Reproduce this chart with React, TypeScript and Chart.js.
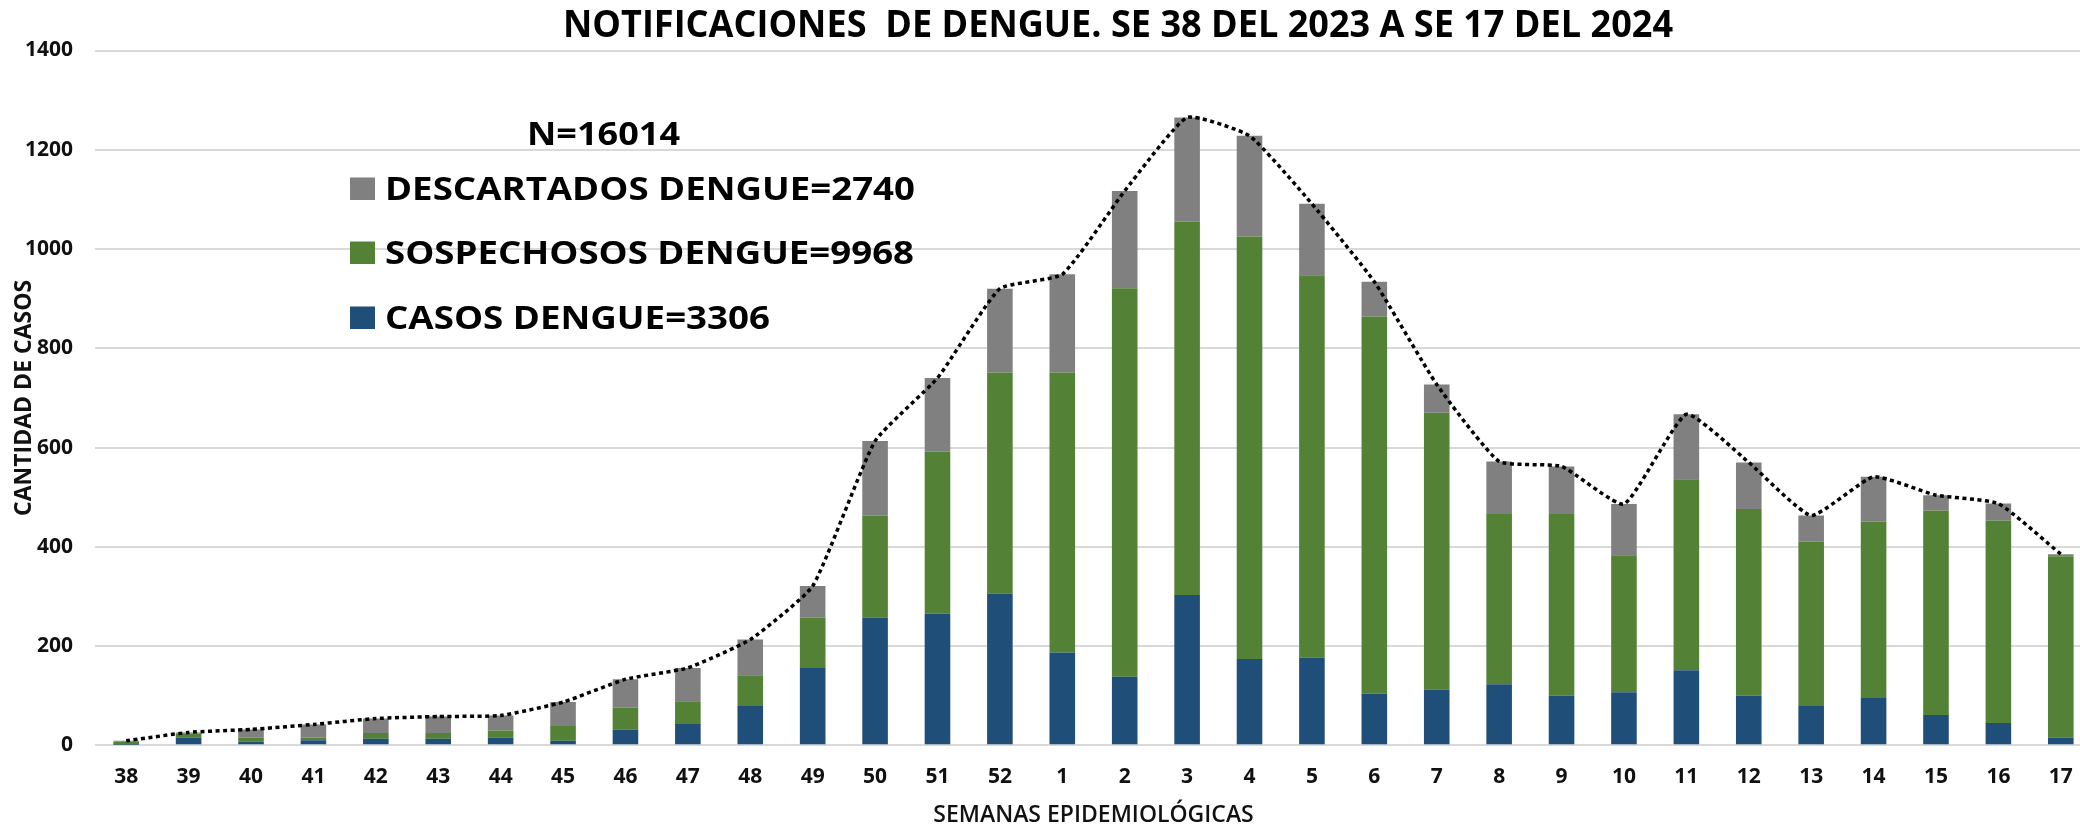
import React, { useEffect, useRef } from 'react';
import { Chart, registerables } from 'chart.js';

Chart.register(...registerables);

// ---------- DATA ----------
const WEEKS = ['38', '39', '40', '41', '42', '43', '44', '45', '46', '47', '48', '49', '50', '51', '52',
  '1', '2', '3', '4', '5', '6', '7', '8', '9', '10', '11', '12', '13', '14', '15', '16', '17'];

const CASOS = [1, 15, 7, 10, 13, 13, 15, 9, 32, 43, 79, 156, 257, 265, 306,
  187, 138, 303, 174, 177, 104, 112, 123, 100, 107, 151, 100, 79, 97, 61, 45, 15];

const SOSPECHOSOS = [6, 9, 8, 5, 12, 12, 15, 30, 44, 46, 62, 101, 206, 327, 445,
  564, 783, 752, 851, 770, 760, 558, 343, 366, 276, 385, 376, 331, 354, 412, 408, 366];

const DESCARTADOS = [2, 2, 17, 27, 29, 33, 30, 48, 57, 67, 72, 64, 150, 148, 169,
  198, 196, 210, 203, 144, 70, 57, 106, 96, 103, 131, 94, 53, 90, 31, 34, 4];

const SERIES_LABELS = ['CASOS DENGUE=3306', 'SOSPECHOSOS DENGUE=9968', 'DESCARTADOS DENGUE=2740'];
const SERIES_COLORS = ['#1F4E79', '#538135', '#808080'];
const TOTAL_LABEL = 'N=16014';
const TITLE = 'NOTIFICACIONES  DE DENGUE. SE 38 DEL 2023 A SE 17 DEL 2024';
const Y_TITLE = 'CANTIDAD DE CASOS';
const X_TITLE = 'SEMANAS EPIDEMIOLÓGICAS';
const Y_MIN = 0;
const Y_MAX = 1400;
const Y_STEP = 200;

const FONT = '"Open Sans", "Noto Sans", sans-serif';

function fitText(
  ctx: CanvasRenderingContext2D,
  text: string,
  x: number,
  baseline: number,
  fontPx: number,
  targetW: number,
  align: CanvasTextAlign
) {
  ctx.save();
  ctx.font = `bold ${fontPx}px ${FONT}`;
  const w = ctx.measureText(text).width;
  const sx = w > 0 ? targetW / w : 1;
  ctx.translate(x, baseline);
  ctx.scale(sx, 1);
  ctx.textAlign = align;
  ctx.textBaseline = 'alphabetic';
  ctx.fillStyle = '#000';
  ctx.fillText(text, 0, 0);
  ctx.restore();
}

const overlayPlugin = {
  id: 'overlayText',
  afterDraw(chart: any) {
    const ctx: CanvasRenderingContext2D = chart.ctx;
    // Title
    fitText(ctx, TITLE, 1118, 37, 37, 1110, 'center');
    // N label
    fitText(ctx, TOTAL_LABEL, 603.5, 145, 32, 153, 'center');
    // Legend items (top to bottom: descartados, sospechosos, casos)
    const rows = [
      { i: 2, base: 200, w: 530 },
      { i: 1, base: 264, w: 529 },
      { i: 0, base: 329, w: 385 },
    ];
    rows.forEach((r) => {
      ctx.save();
      ctx.fillStyle = SERIES_COLORS[r.i];
      ctx.fillRect(350, r.base - 22.5, 25, 22.5);
      ctx.restore();
      fitText(ctx, SERIES_LABELS[r.i], 385, r.base, 32, r.w, 'left');
    });
  },
};

export default function App() {
  const canvasRef = useRef<HTMLCanvasElement | null>(null);

  useEffect(() => {
    if (!canvasRef.current) return;
    const totals = WEEKS.map((_, i) => CASOS[i] + SOSPECHOSOS[i] + DESCARTADOS[i]);
    const barSeries = [CASOS, SOSPECHOSOS, DESCARTADOS];

    const chart = new Chart(canvasRef.current, {
      type: 'bar',
      data: {
        labels: WEEKS,
        datasets: [
          {
            type: 'line',
            label: 'TOTAL',
            data: totals,
            borderColor: '#000000',
            borderWidth: 3.5,
            borderDash: [4, 3.5],
            pointRadius: 0,
            tension: 0.15,
            fill: false,
            order: 0,
            stack: 'total',
          } as any,
          ...barSeries.map((d, k) => ({
            type: 'bar',
            label: SERIES_LABELS[k],
            data: d,
            backgroundColor: SERIES_COLORS[k],
            borderWidth: 0,
            barPercentage: 0.41,
            categoryPercentage: 1.0,
            order: 1,
            stack: 'cases',
          })),
        ] as any,
      },
      options: {
        responsive: false,
        animation: false,
        devicePixelRatio: 1,
        layout: { padding: { top: 50.5, right: 8, left: 0, bottom: 0 } },
        plugins: {
          legend: { display: false },
          title: { display: false },
          tooltip: { enabled: false },
        },
        scales: {
          x: {
            stacked: true,
            grid: { display: false, drawTicks: false },
            border: { display: false },
            ticks: {
              color: '#111',
              font: { family: FONT, size: 21, weight: 'bold' },
              padding: 19,
              autoSkip: false,
              maxRotation: 0,
            },
            title: {
              display: true,
              text: X_TITLE,
              color: '#111',
              font: { family: FONT, size: 23, weight: '600' },
              padding: { top: 0, bottom: -4 },
            },
            afterFit: (s: any) => {
              s.height = 79.7;
            },
          },
          y: {
            stacked: true,
            min: Y_MIN,
            max: Y_MAX,
            grid: { color: '#D9D9D9', lineWidth: 2, drawTicks: false },
            border: { display: false },
            ticks: {
              stepSize: Y_STEP,
              color: '#111',
              font: { family: FONT, size: 21, weight: 'bold' },
              padding: 22,
              callback: (v: any) => String(v),
            },
            title: {
              display: true,
              text: Y_TITLE,
              color: '#111',
              font: { family: FONT, size: 23, weight: 'bold' },
              padding: { top: 11, bottom: 4 },
            },
            afterFit: (s: any) => {
              s.width = 95;
            },
          },
        },
      } as any,
      plugins: [overlayPlugin],
    });

    return () => chart.destroy();
  }, []);

  return (
    <div
      style={{
        position: 'absolute',
        left: 0,
        top: 0,
        width: 2080,
        height: 825,
        overflow: 'hidden',
        background: '#fff',
      }}
    >
      <canvas ref={canvasRef} width={2100} height={825} style={{ display: 'block' }} />
    </div>
  );
}
